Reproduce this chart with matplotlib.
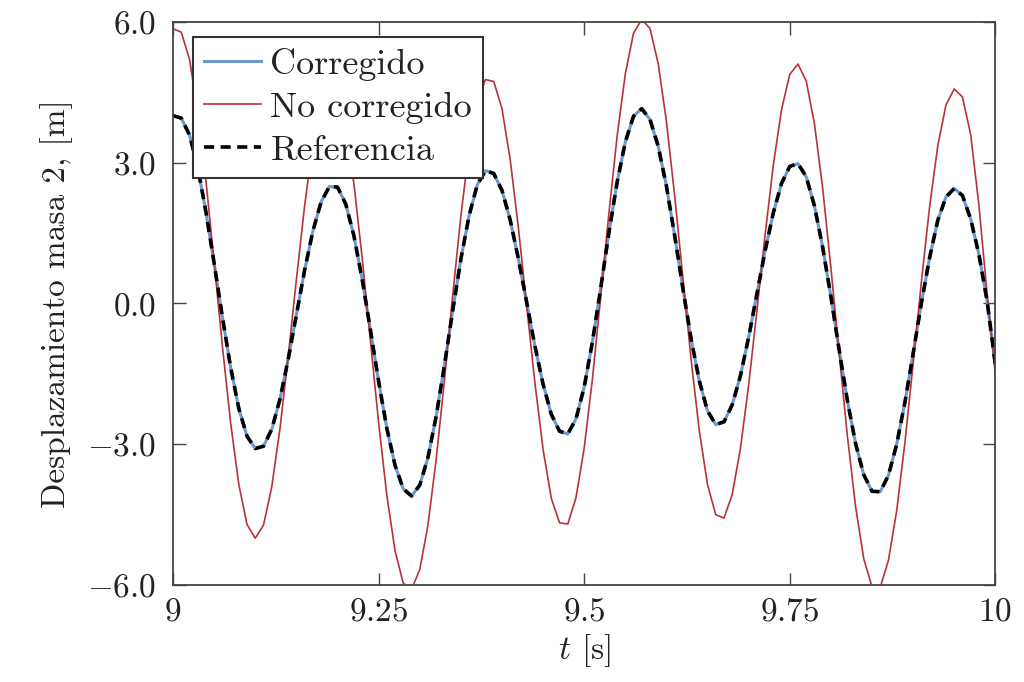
import numpy as np
import matplotlib
matplotlib.use('Agg')
import matplotlib.pyplot as plt

# tiempo de muestreo (paso 0.01 s)
t = np.round(np.arange(9.0, 10.0001, 0.01), 2)

# Referencia (= Corregido, se superponen)
ref = [4.00, 3.95, 3.59, 2.90, 1.95, 0.85, -0.29, -1.36, -2.24, -2.83,
       -3.09, -3.04, -2.68, -2.04, -1.19, -0.24, 0.71, 1.54, 2.16, 2.49,
       2.48, 2.12, 1.44, 0.51, -0.56, -1.66, -2.66, -3.45, -3.95, -4.10,
       -3.87, -3.28, -2.40, -1.32, -0.16, 0.94, 1.87, 2.53, 2.83, 2.77,
       2.41, 1.78, 0.95, 0.03, -0.90, -1.72, -2.36, -2.72, -2.78, -2.46,
       -1.78, -0.82, 0.32, 1.50, 2.58, 3.44, 3.99, 4.15, 3.92, 3.35,
       2.50, 1.45, 0.32, -0.75, -1.65, -2.29, -2.58, -2.52, -2.16, -1.54,
       -0.72, 0.20, 1.12, 1.93, 2.56, 2.92, 2.98, 2.70, 2.08, 1.20,
       0.15, -0.98, -2.06, -2.98, -3.65, -4.00, -4.01, -3.66, -3.00, -2.11,
       -1.07, 0.00, 0.97, 1.77, 2.27, 2.45, 2.30, 1.80, 1.05, 0.05,
       -1.30]
corr = list(ref)

# No corregido
nocorr = [5.85, 5.78, 5.20, 4.10, 2.61, 0.88, -0.91, -2.54, -3.86, -4.71,
          -5.00, -4.72, -3.91, -2.67, -1.13, 0.51, 2.08, 3.40, 4.30, 4.69,
          4.51, 3.77, 2.54, 0.97, -0.79, -2.54, -4.09, -5.27, -5.96, -6.09,
          -5.67, -4.72, -3.32, -1.64, 0.16, 1.86, 3.30, 4.31, 4.77, 4.73,
          4.15, 3.07, 1.61, -0.05, -1.68, -3.11, -4.15, -4.67, -4.70, -4.14,
          -3.08, -1.61, 0.13, 1.91, 3.56, 4.89, 5.76, 6.05, 5.86, 5.11,
          3.88, 2.30, 0.55, -1.19, -2.71, -3.86, -4.50, -4.57, -4.07, -3.09,
          -1.74, -0.16, 1.46, 2.95, 4.13, 4.88, 5.10, 4.74, 3.83, 2.46,
          0.77, -1.05, -2.81, -4.32, -5.44, -6.03, -6.05, -5.47, -4.42, -2.97,
          -1.29, 0.45, 2.05, 3.36, 4.23, 4.57, 4.40, 3.60, 2.10, 0.20,
          -1.50]

xticks = [9, 9.25, 9.5, 9.75, 10]
xlabels = ['$9$', '$9.25$', '$9.5$', '$9.75$', '$10$']
yticks = [-6, -3, 0, 3, 6]
ylabels = ['$-6.0$', '$-3.0$', '$0.0$', '$3.0$', '$6.0$']

plt.rcParams['font.family'] = 'cmr10'
plt.rcParams['mathtext.fontset'] = 'cm'
plt.rcParams['axes.unicode_minus'] = False

fig = plt.figure(figsize=(10.24, 6.82), dpi=100)
ax = fig.add_axes([0.169, 0.142, 0.803, 0.826])

ax.plot(t, corr, color='#6a98cf', lw=2.2, label='Corregido')
ax.plot(t, nocorr, color='#b8323c', lw=1.2, label='No corregido')
ax.plot(t, ref, color='black', lw=2.6, ls=(0, (2.8, 1.8)), label='Referencia')

ax.set_xlim(9, 10)
ax.set_ylim(-6, 6)
ax.set_xticks(xticks)
ax.set_xticklabels(xlabels)
ax.set_yticks(yticks)
ax.set_yticklabels(ylabels)

ax.tick_params(direction='in', length=9, width=1.0, color='#444444',
               top=True, right=True, labelsize=24, labelcolor='#222222')
ax.tick_params(axis='y', pad=12)
ax.tick_params(axis='x', pad=9)
for s in ax.spines.values():
    s.set_color('#444444')
    s.set_linewidth(1.3)

ax.set_xlabel('$t$ [s]', fontsize=24, labelpad=4, color='#222222')
ax.set_ylabel('Desplazamiento masa 2, [m]', fontsize=24, labelpad=10,
              color='#222222')

leg = ax.legend(loc='upper left', bbox_to_anchor=(0.024, 0.973),
                borderaxespad=0, fontsize=26, fancybox=False, framealpha=1,
                edgecolor='#333333', handlelength=1.6, handletextpad=0.25,
                labelspacing=0.3, borderpad=0.3)
leg.get_frame().set_linewidth(1.5)
for txt in leg.get_texts():
    txt.set_color('#222222')

fig.savefig('out.png', dpi=100)
